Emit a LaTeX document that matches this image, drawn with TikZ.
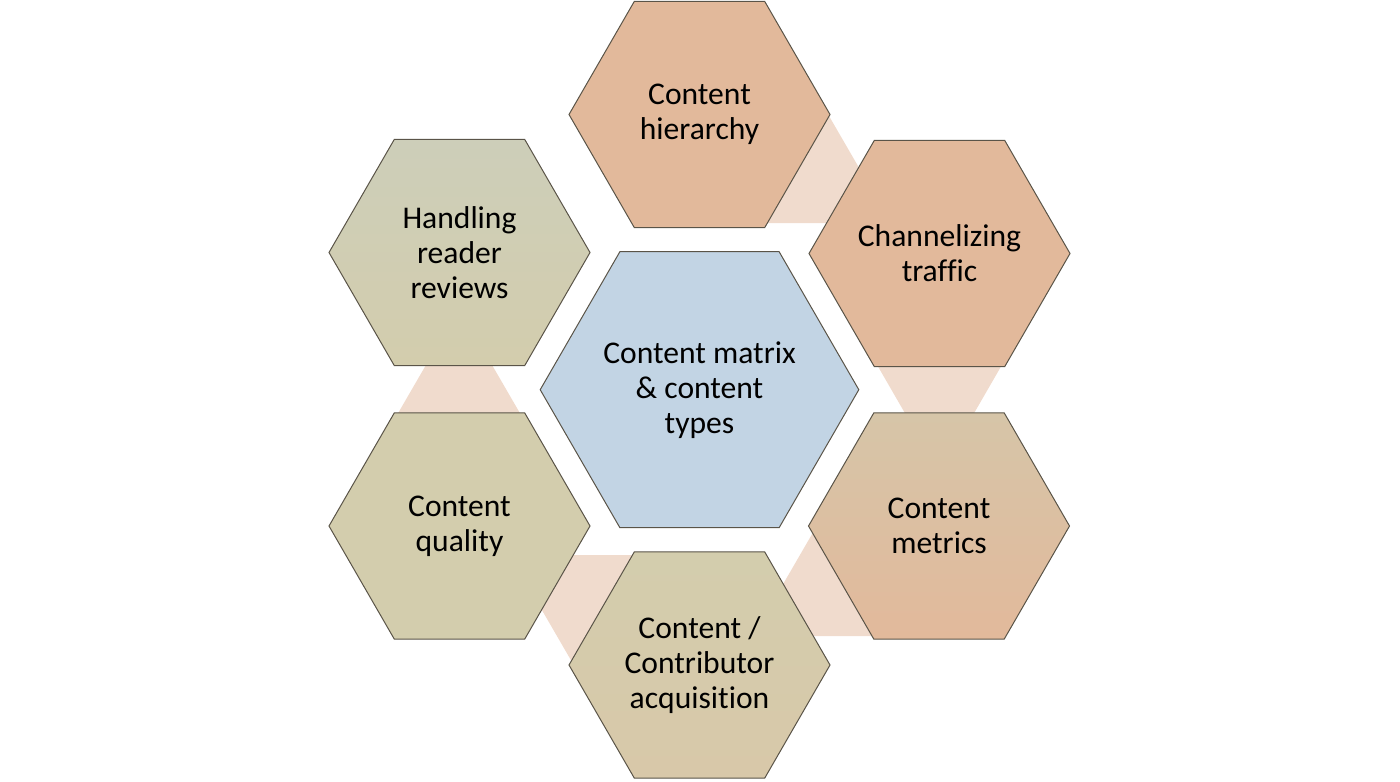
\documentclass[tikz,border=0pt]{standalone}
\usepackage{fontspec}
\setmainfont{Carlito}[Ligatures={NoCommon,NoRequired}]
\usetikzlibrary{shapes.geometric}
\definecolor{peach}{HTML}{E2B99B}
\definecolor{beige}{HTML}{D3CDAD}
\definecolor{hexblue}{HTML}{C2D4E4}
\definecolor{linkpink}{HTML}{F0DBCD}
\definecolor{hexedge}{HTML}{5A5448}
\definecolor{metricstop}{HTML}{D6C5A8}
\definecolor{contribbot}{HTML}{D8C8A9}
\definecolor{handtop}{HTML}{CDCEB9}
\begin{document}
\begin{tikzpicture}[x=0.5pt,y=-0.5pt,
  hexbox/.style={regular polygon, regular polygon sides=6, minimum size=130.5pt,
    inner sep=-20pt, draw=hexedge, line width=0.5pt, align=center,
    font=\fontsize{15.8}{17.5}\selectfont, text=black},
  bighex/.style={hexbox, minimum size=159.3pt},
  link/.style={fill=linkpink, draw=none}]
\useasboundingbox (0,0) rectangle (1400,781);
% link triangles (behind the hexagons)
\fill[link] (829,116) -- (767,223) -- (891,223) -- cycle;
\fill[link] (939.5,473) -- (875.4,362) -- (1003.6,362) -- cycle;
\fill[link] (815,529) -- (753,636) -- (877,636) -- cycle;
\fill[link] (572,662) -- (510,555) -- (634,555) -- cycle;
\fill[link] (459,308) -- (397,415) -- (521,415) -- cycle;
% hexagons
\node[hexbox, fill=peach] (hier) at (699.5,114.5) {Content\\hierarchy};
\node[hexbox, fill=peach] (chan) at (939.5,253.5) {Channelizing\\traffic};
\node[hexbox, top color=metricstop, bottom color=peach] (metr) at (939,526) {Content\\metrics};
\node[hexbox, top color=beige, bottom color=contribbot] (contr) at (699.5,665) {Content /\\Contributor\\acquisition};
\node[hexbox, fill=beige] (qual) at (459.5,526) {Content\\quality};
\node[hexbox, top color=handtop, bottom color=beige] (hand) at (459.5,252.5) {Handling\\reader\\reviews};
\node[bighex, fill=hexblue] (core) at (699.5,389.7) {Content matrix\\\& content\\types};
\end{tikzpicture}
\end{document}
